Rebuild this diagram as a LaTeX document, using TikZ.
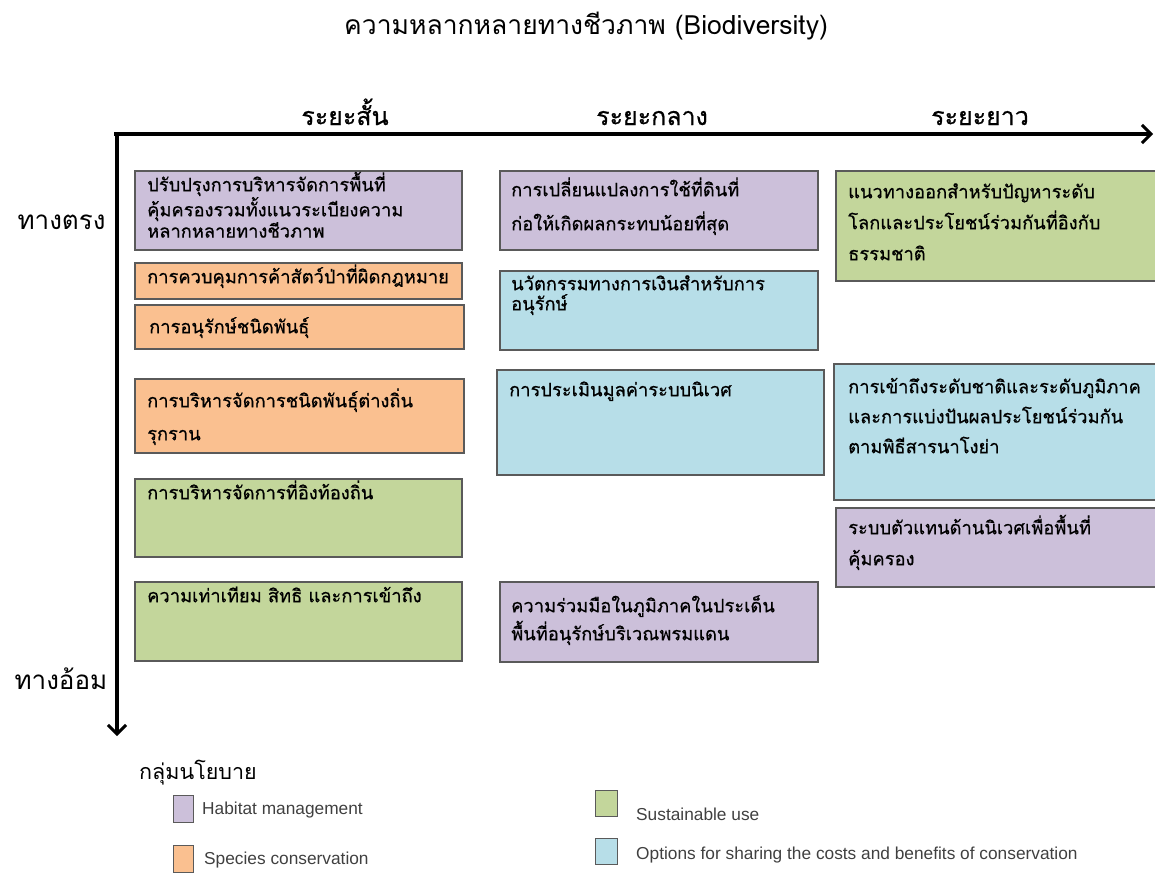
\documentclass[tikz,border=0pt]{standalone}
\usepackage{fontspec}
\newfontfamily\thai[Script=Thai]{Loma}
\newfontfamily\thaibox[Script=Thai,FakeBold=0.6]{Loma}
\newfontfamily\legendfont{Liberation Sans}
\usetikzlibrary{arrows.meta}

\definecolor{habitat}{HTML}{CCC0DA}
\definecolor{species}{HTML}{FAC090}
\definecolor{sustain}{HTML}{C3D69B}
\definecolor{sharing}{HTML}{B7DEE8}
\definecolor{edge}{HTML}{5A5A5A}
\definecolor{legendtext}{HTML}{404040}

% fixed height for the first line of every box text
\newcommand\firstrule{\rule{0pt}{20pt}}

\begin{document}
\begin{tikzpicture}[x=1pt,y=-1pt,
  policybox/.style={draw=edge, line width=1.4pt, inner sep=0pt, outer sep=0pt, anchor=north west},
  boxtext/.style={anchor=north west, inner sep=0pt, align=left, font=\thaibox\fontsize{18.3}{#1}\selectfont},
  boxtext/.default=30,
  axis/.style={line width=3.2pt, -{Straight Barb[length=9pt,width=18pt,line width=3pt]}},
  heading/.style={font=\thai\fontsize{25}{28}\selectfont, anchor=base},
  swatch/.style={draw=edge, line width=1.2pt, inner sep=0pt, anchor=north west},
  legend/.style={anchor=west, inner sep=0pt, text=legendtext, font=\legendfont\fontsize{17.3}{20}\selectfont}
]
\useasboundingbox (0,0) rectangle (1155,872);

% title
\node[heading, font=\thai\fontsize{26.5}{30}\selectfont] (title) at (586,35) {ความหลากหลายทางชีวภาพ (Biodiversity)};

% axes
\coordinate (origin) at (117,134);
\coordinate (xstart) at (114,134);
\coordinate (xend) at (1153,134);
\coordinate (yend) at (117,736);
\draw[axis] (xstart) -- (xend);
\draw[axis] (origin) -- (yend);

% time-scale headings
\node[heading, font=\thaibox\fontsize{25}{28}\selectfont] (short) at (345,125) {ระยะสั้น};
\node[heading, font=\thaibox\fontsize{25}{28}\selectfont] (medium) at (652,125) {ระยะกลาง};
\node[heading, font=\thaibox\fontsize{25}{28}\selectfont] (long) at (980,125) {ระยะยาว};

% directness labels
\node[heading, anchor=base west, font=\thai\fontsize{26}{28}\selectfont] (direct) at (14,229) {ทางตรง};
\node[heading, anchor=base west, font=\thai\fontsize{26}{28}\selectfont] (indirect) at (11,689) {ทางอ้อม};

% short-term column
\node[policybox, fill=habitat, minimum width=327, minimum height=79] (b1) at (135,171) {};
\node[boxtext=20] (t1) at (147,171) {\firstrule ปรับปรุงการบริหารจัดการพื้นที่\\คุ้มครองรวมทั้งแนวระเบียงความ\\หลากหลายทางชีวภาพ};
\node[policybox, fill=species, minimum width=327, minimum height=36] (b2) at (135,263) {};
\node[boxtext] (t2) at (147,263) {\firstrule การควบคุมการค้าสัตว์ป่าที่ผิดกฎหมาย};
\node[policybox, fill=species, minimum width=329, minimum height=44] (b3) at (135,305) {};
\node[boxtext] (t3) at (149,313) {\firstrule การอนุรักษ์ชนิดพันธุ์};
\node[policybox, fill=species, minimum width=329, minimum height=74] (b4) at (135,379) {};
\node[boxtext=33] (t4) at (147,387) {\firstrule การบริหารจัดการชนิดพันธุ์ต่างถิ่น\\รุกราน};
\node[policybox, fill=sustain, minimum width=327, minimum height=78] (b5) at (135,479) {};
\node[boxtext] (t5) at (147,479) {\firstrule การบริหารจัดการที่อิงท้องถิ่น};
\node[policybox, fill=sustain, minimum width=327, minimum height=79] (b6) at (135,582) {};
\node[boxtext] (t6) at (147,582) {\firstrule ความเท่าเทียม สิทธิ และการเข้าถึง};

% medium-term column
\node[policybox, fill=habitat, minimum width=318, minimum height=79] (c1) at (500,171) {};
\node[boxtext=34] (c1t) at (511,176) {\firstrule การเปลี่ยนแปลงการใช้ที่ดินที่\\ก่อให้เกิดผลกระทบน้อยที่สุด};
\node[policybox, fill=sharing, minimum width=318, minimum height=79] (c2) at (500,271) {};
\node[boxtext=20] (c2t) at (511,270) {\firstrule นวัตกรรมทางการเงินสำหรับการ\\อนุรักษ์};
\node[policybox, fill=sharing, minimum width=327, minimum height=105] (c3) at (497,370) {};
\node[boxtext] (c3t) at (509,376) {\firstrule การประเมินมูลค่าระบบนิเวศ};
\node[policybox, fill=habitat, minimum width=318, minimum height=80] (c4) at (500,582) {};
\node[boxtext=28] (c4t) at (511,592) {\firstrule ความร่วมมือในภูมิภาคในประเด็น\\พื้นที่อนุรักษ์บริเวณพรมแดน};

% long-term column
\node[policybox, fill=sustain, minimum width=322, minimum height=110] (d1) at (836,171) {};
\node[boxtext=31] (d1t) at (848,178) {\firstrule แนวทางออกสำหรับปัญหาระดับ\\โลกและประโยชน์ร่วมกันที่อิงกับ\\ธรรมชาติ};
\node[policybox, fill=sharing, minimum width=324, minimum height=136] (d2) at (834,364) {};
\node[boxtext=30] (d2t) at (848,373) {\firstrule การเข้าถึงระดับชาติและระดับภูมิภาค\\และการแบ่งปันผลประโยชน์ร่วมกัน\\ตามพิธีสารนาโงย่า};
\node[policybox, fill=habitat, minimum width=322, minimum height=79] (d3) at (836,508) {};
\node[boxtext=31] (d3t) at (848,514) {\firstrule ระบบตัวแทนด้านนิเวศเพื่อพื้นที่\\คุ้มครอง};

% legend
\node[anchor=base west, inner sep=0pt, font=\thai\fontsize{21.5}{24}\selectfont] (legtitle) at (139,779) {กลุ่มนโยบาย};
\node[swatch, fill=habitat, minimum width=20, minimum height=27] (s1) at (173,795) {};
\node[legend] (l1) at (202,810) {Habitat management};
\node[swatch, fill=species, minimum width=20, minimum height=27] (s2) at (173,845) {};
\node[legend] (l2) at (204,860) {Species conservation};
\node[swatch, fill=sustain, minimum width=22, minimum height=26] (s3) at (595,790) {};
\node[legend] (l3) at (636,814) {Sustainable use};
\node[swatch, fill=sharing, minimum width=22, minimum height=26] (s4) at (595,838) {};
\node[legend] (l4) at (636,855) {Options for sharing the costs and benefits of conservation};
\end{tikzpicture}
\end{document}
